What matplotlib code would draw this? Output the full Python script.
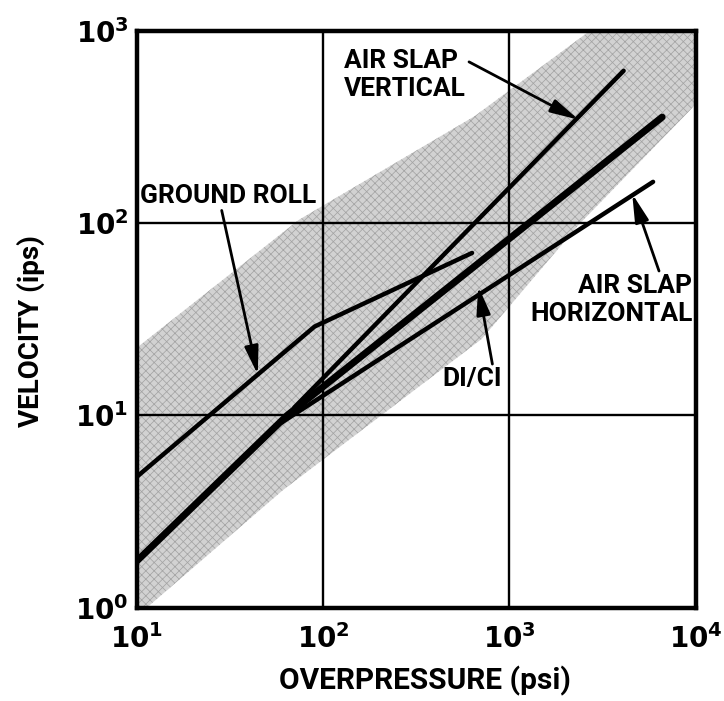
import matplotlib
matplotlib.use("Agg")
import matplotlib.pyplot as plt
import numpy as np

# --- data (overpressure in psi, velocity in ips) ---
ground_roll_p = [10, 90, 630]
ground_roll_v = [4.8, 29, 70]

air_slap_vert_p = [70, 4100]
air_slap_vert_v = [11, 620]

di_ci_p = [10, 64, 6600]
di_ci_v = [1.75, 10, 356]

air_slap_horiz_p = [60, 5900]
air_slap_horiz_v = [9.2, 164]

# scatter band: upper and lower envelopes
band_upper_p = [10, 74, 650, 2700, 10000]
band_upper_v = [22.5, 104, 360, 1000, 1000]
band_lower_p = [10, 11.3, 61, 710, 2350, 9400, 10000]
band_lower_v = [1.0, 1.0, 4.1, 25, 98, 390, 420]

x_ticks = [1e1, 1e2, 1e3, 1e4]
x_tick_labels = [r"$\mathbf{10^{1}}$", r"$\mathbf{10^{2}}$", r"$\mathbf{10^{3}}$", r"$\mathbf{10^{4}}$"]
y_ticks = [1e0, 1e1, 1e2, 1e3]
y_tick_labels = [r"$\mathbf{10^{0}}$", r"$\mathbf{10^{1}}$", r"$\mathbf{10^{2}}$", r"$\mathbf{10^{3}}$"]

plt.rcParams["font.family"] = ["DejaVu Sans"]
plt.rcParams["mathtext.fontset"] = "dejavusans"
plt.rcParams["hatch.linewidth"] = 0.55

label_font = ["Roboto", "DejaVu Sans"]

fig = plt.figure(figsize=(7.24, 7.01), dpi=100)
ax = fig.add_axes([0.189, 0.133, 0.772, 0.823])
ax.set_xscale("log")
ax.set_yscale("log")
ax.set_xlim(1e1, 1e4)
ax.set_ylim(1e0, 1e3)

# shaded band, sampled on a common log grid
pg = np.logspace(1, 4, 400)
up = 10 ** np.interp(np.log10(pg), np.log10(band_upper_p), np.log10(band_upper_v))
lo = 10 ** np.interp(np.log10(pg), np.log10(band_lower_p), np.log10(band_lower_v))
ax.fill_between(pg, lo, up, facecolor="#d2d2d2", edgecolor="#a4a4a4",
                hatch="xxxx", linewidth=0, zorder=1)

# grid
for t in x_ticks[1:-1]:
    ax.axvline(t, color="black", lw=1.7, zorder=2)
for t in y_ticks[1:-1]:
    ax.axhline(t, color="black", lw=1.7, zorder=2)

# curves
ax.plot(ground_roll_p, ground_roll_v, color="black", lw=3.2, solid_capstyle="round", zorder=3)
ax.plot(air_slap_vert_p, air_slap_vert_v, color="black", lw=3.2, solid_capstyle="round", zorder=3)
ax.plot(air_slap_horiz_p, air_slap_horiz_v, color="black", lw=3.2, solid_capstyle="round", zorder=3)
ax.plot(di_ci_p, di_ci_v, color="black", lw=5.0, solid_capstyle="round",
        solid_joinstyle="round", zorder=3)

for s in ax.spines.values():
    s.set_linewidth(3.2)
ax.tick_params(length=0, labelsize=20)
ax.tick_params(axis="x", pad=12)
ax.tick_params(axis="y", pad=6)
ax.set_xticks(x_ticks)
ax.set_xticklabels(x_tick_labels)
ax.set_yticks(y_ticks)
ax.set_yticklabels(y_tick_labels)
ax.minorticks_off()

ax.set_xlabel("OVERPRESSURE (psi)", fontsize=21.5, fontweight="bold", family=label_font)
ax.set_ylabel("VELOCITY (ips)", fontsize=20, fontweight="bold", family=label_font)
ax.xaxis.set_label_coords(0.515, -0.100)
ax.yaxis.label.set_verticalalignment("center")
ax.yaxis.set_label_coords(-0.19, 0.48)

arrow = dict(arrowstyle="-|>,head_length=0.9,head_width=0.22", color="black", lw=2.0,
             shrinkA=0, shrinkB=0)
txt = dict(fontsize=19, fontweight="bold", color="black", linespacing=1.2, zorder=5,
           family=label_font)

ax.annotate("AIR SLAP\nVERTICAL", xy=(2350, 345), xytext=(130, 590),
            ha="left", va="center", arrowprops=dict(arrow, relpos=(1.0, 0.78)), **txt)
ax.annotate("GROUND ROLL", xy=(44.6, 16.3), xytext=(10.4, 139),
            ha="left", va="center", arrowprops=dict(arrow, relpos=(0.46, 0.0)), **txt)
ax.annotate("AIR SLAP\nHORIZONTAL", xy=(4560, 142), xytext=(9600, 40),
            ha="right", va="center", arrowprops=dict(arrow, relpos=(0.8, 1.0)), **txt)
ax.annotate("DI/CI", xy=(680, 47), xytext=(630, 15.5),
            ha="center", va="center", arrowprops=dict(arrow, relpos=(0.85, 1.0)), **txt)

fig.savefig("out.png", dpi=100, facecolor="white")
